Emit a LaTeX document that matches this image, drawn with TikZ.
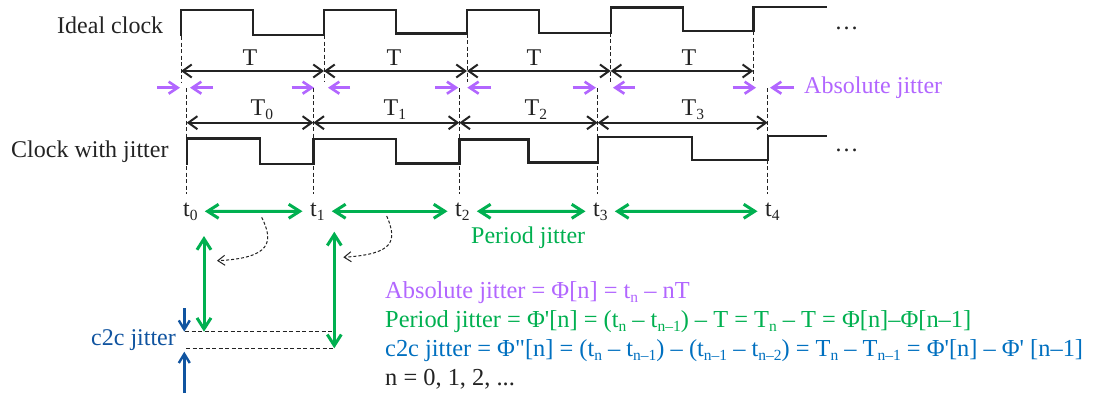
\documentclass[tikz,border=0pt]{standalone}
\usepackage{fontspec}
\newfontfamily\tms{Liberation Serif}
\usetikzlibrary{arrows.meta}
\definecolor{wave}{RGB}{35,35,35}
\definecolor{purp}{RGB}{178,102,255}
\definecolor{grn}{RGB}{0,176,80}
\definecolor{blu}{RGB}{0,112,192}
\definecolor{dblu}{RGB}{16,84,160}
\newcommand{\sbx}[1]{\raisebox{-4pt}{\fontsize{15.5}{15.5}\selectfont #1}}
\begin{document}
\begin{tikzpicture}[x=1pt,y=-1pt,
  txt/.style={font=\tms\fontsize{24}{28}\selectfont, inner sep=0pt, text=wave},
  eqtxt/.style={font=\tms\fontsize{24.4}{28}\selectfont, inner sep=0pt, anchor=base west},
  wavel/.style={draw=wave,line width=2.4pt},
  guide/.style={draw=wave,line width=1pt,dash pattern=on 4pt off 2.5pt},
  tarr/.style={draw=wave,line width=2pt,{Straight Barb[length=9pt,width=13pt]}-{Straight Barb[length=9pt,width=13pt]}},
  parr/.style={draw=purp,line width=2.6pt,-{Straight Barb[length=9pt,width=12pt]}},
  garr/.style={draw=grn,line width=3pt,{Straight Barb[length=11pt,width=14pt]}-{Straight Barb[length=11pt,width=14pt]}},
  barr/.style={draw=dblu,line width=2.4pt,-{Straight Barb[length=9pt,width=11pt]}},
  curv/.style={draw=wave,line width=1pt,dash pattern=on 3pt off 2pt,-{Straight Barb[length=7pt,width=10pt]}},
  hdash/.style={draw=wave,line width=1.1pt,dash pattern=on 4pt off 2.5pt},
]
\useasboundingbox (0,0) rectangle (1093,394);
\fill[white] (0,0) rectangle (1093,394);

% guides of the ideal clock edges
\foreach \x/\yt in {181/36,324/35,467/33.5,610.7/32.7,753.3/31}
  \draw[guide] (\x,\yt) -- (\x,82);
% guides of the jittered clock edges
\foreach \x in {186.7,313.3,459.3,597.7,767.7}
  \draw[guide] (\x,88) -- (\x,194);

% waveforms
\draw[wavel] (181,36)--(181,10)--(253,10)--(253,35)--(324,35)--(324,10)--(396,10)--(396,33.5)--(467,33.5)--(467,10)--(539,10)--(539,32.7)--(610.7,32.7)--(610.7,7.3)--(682.7,7.3)--(682.7,31)--(753.3,31)--(753.3,6.7)--(826.7,6.7);
\draw[wavel] (186.7,165)--(186.7,138.3)--(260,138.3)--(260,164)--(313.3,164)--(313.3,139)--(396,139)--(396,163.3)--(459.3,163.3)--(459.3,139.3)--(528.3,139.3)--(528.3,162.3)--(597.7,162.3)--(597.7,136.7)--(691.7,136.7)--(691.7,160)--(767.7,160)--(767.7,136)--(826.7,136);

% labels
\node[txt,anchor=base west] (lab1) at (57,33.3) {Ideal clock};
\node[txt,anchor=base west] (lab2) at (11,157.3) {Clock with jitter};
\node[txt,anchor=base west] (dots1) at (834.5,29.5) {…};
\node[txt,anchor=base west] (dots2) at (834.5,151.5) {…};

% T arrows
\foreach \n/\x in {0/181,1/324,2/467,3/610.7,4/753.3}
  \coordinate (I\n) at (\x,71);
\draw[tarr] (I0) -- (I1);
\draw[tarr] (I1) -- (I2);
\draw[tarr] (I2) -- (I3);
\draw[tarr] (I3) -- (I4);
\foreach \n/\x in {0/250,1/394,2/534,3/689}
  \node[txt,anchor=base] (T\n) at (\x,65) {T};

% T_n arrows
\foreach \n/\x in {0/186.7,1/313.3,2/459.3,3/597.7,4/767.7}
  \coordinate (J\n) at (\x,122.7);
\draw[tarr] (J0) -- (J1);
\draw[tarr] (J1) -- (J2);
\draw[tarr] (J2) -- (J3);
\draw[tarr] (J3) -- (J4);
\foreach \n/\x in {0/258,1/391,2/532,3/689}
  \node[txt,anchor=base] (Tn\n) at (\x,115) {T\rlap{\sbx{\n}}};

% absolute jitter arrows
\foreach \n/\a/\b/\c/\d in {0/157/180/213/190, 1/291.7/314/350/328, 2/435/458.3/491/467.3, 3/572.7/596/635/613, 4/732.7/756/794.3/770}{
  \coordinate (pa\n) at (\a,87.7);
  \coordinate (pb\n) at (\b,87.7);
  \coordinate (pc\n) at (\c,87.7);
  \coordinate (pd\n) at (\d,87.7);
  \draw[parr] (pa\n) -- (pb\n);
  \draw[parr] (pc\n) -- (pd\n);
}
\node[txt,anchor=base west,text=purp] (abslab) at (804,93.5) {Absolute jitter};

% t labels and period jitter arrows
\foreach \n/\x in {0/183,1/310,2/455,3/593,4/765}
  \node[txt,anchor=base west] (t\n) at (\x,216) {t\sbx{\n}};
\draw[garr,shorten <=7pt,shorten >=7.5pt] (t0.east) -- (t1.west);
\draw[garr,shorten <=7pt,shorten >=7.5pt] (t1.east) -- (t2.west);
\draw[garr,shorten <=7pt,shorten >=7.5pt] (t2.east) -- (t3.west);
\draw[garr,shorten <=7pt,shorten >=7.5pt] (t3.east) -- (t4.west);
\node[txt,anchor=base west,text=grn] (perlab) at (471,243.5) {Period jitter};

% curved dashed arrows
\coordinate (c1s) at (261.7,217.3);
\coordinate (c1e) at (217,260.7);
\coordinate (c2s) at (386.7,216);
\coordinate (c2e) at (343.3,257.3);
\draw[curv] (c1s) .. controls (274,242) and (271,258) .. (c1e);
\draw[curv] (c2s) .. controls (398,242) and (393,254) .. (c2e);

% c2c construction
\coordinate (h1a) at (185,331.7);
\coordinate (h1b) at (331.7,331.7);
\coordinate (h2a) at (186,348.3);
\coordinate (h2b) at (333.3,348.3);
\draw[hdash] (h1a) -- (h1b);
\draw[hdash] (h2a) -- (h2b);
\coordinate (v1t) at (204,236);
\coordinate (v2t) at (334.3,231.7);
\draw[garr] (v1t) -- (v1t |- h1a);
\draw[garr] (v2t) -- (v2t |- h2a);
\coordinate (b1s) at (184.3,308);
\coordinate (b2s) at (184.3,393);
\draw[barr] (b1s) -- (b1s |- h1a);
\draw[barr] (b2s) -- ([yshift=-3.4pt]b2s |- h2a);
\node[txt,anchor=base west,text=dblu] (c2clab) at (91,345) {c2c jitter};

% equations
\node[eqtxt,text=purp] (eq1) at (385,298) {Absolute jitter = Φ[n] = t\sbx{n} – nT};
\node[eqtxt,text=grn] (eq2) at (385,327) {Period jitter = Φ'[n] = (t\sbx{n} – t\sbx{n–1}) – T = T\sbx{n} – T = Φ[n]–Φ[n–1]};
\node[eqtxt,text=blu] (eq3) at (385,356) {c2c jitter = Φ"[n] = (t\sbx{n} – t\sbx{n–1}) – (t\sbx{n–1} – t\sbx{n–2}) = T\sbx{n} – T\sbx{n–1} = Φ'[n] – Φ' [n–1]};
\node[eqtxt,text=wave] (eq4) at (385,385) {n = 0, 1, 2, ...};
\end{tikzpicture}
\end{document}
